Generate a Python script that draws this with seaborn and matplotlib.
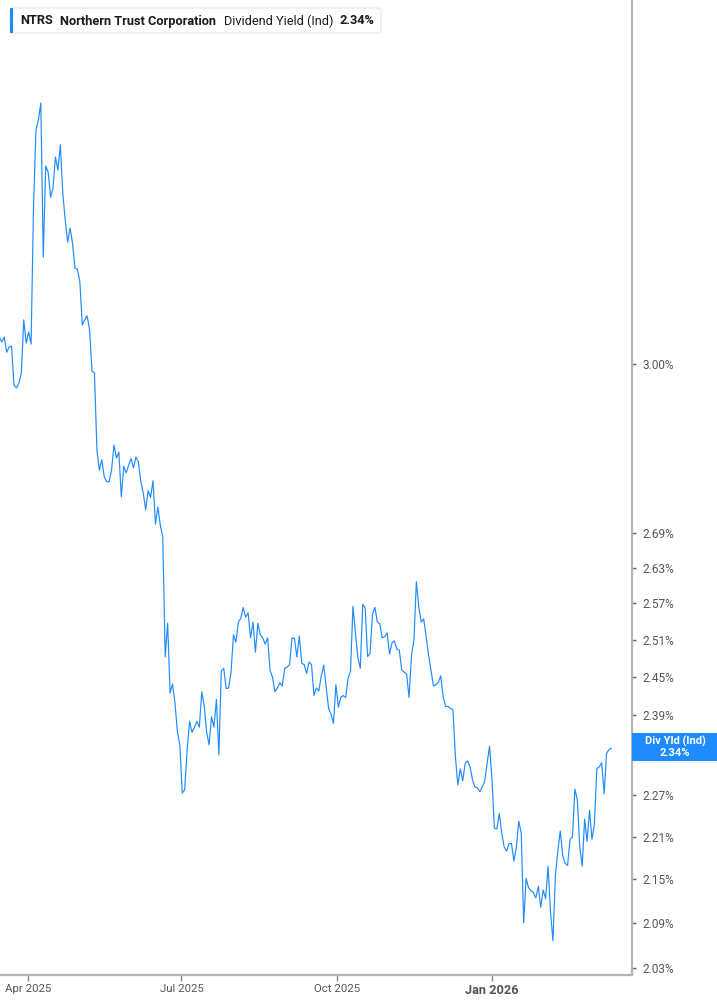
import matplotlib
matplotlib.use("Agg")
import matplotlib.pyplot as plt
import matplotlib.transforms as mtrans
from matplotlib.ticker import FixedLocator, FixedFormatter, NullLocator
from matplotlib.patches import Rectangle, FancyBboxPatch
import matplotlib.dates as mdates
import pandas as pd
import seaborn as sns

# ---------------- data ----------------
div_yield = [
    3.053, 3.043, 3.053, 3.023, 3.033, 3.035, 2.959, 2.954, 2.963, 2.983,
    3.087, 3.041, 3.063, 3.039, 3.321, 3.490, 3.513, 3.552, 3.215, 3.410,
    3.397, 3.342, 3.362, 3.430, 3.401, 3.457, 3.351, 3.293, 3.246, 3.276,
    3.244, 3.192, 3.190, 3.164, 3.077, 3.087, 3.095, 3.067, 2.986, 2.983,
    2.838, 2.801, 2.820, 2.789, 2.780, 2.780, 2.801, 2.847, 2.823, 2.834,
    2.753, 2.808, 2.796, 2.810, 2.822, 2.805, 2.825, 2.816, 2.780, 2.760,
    2.730, 2.764, 2.752, 2.782, 2.705, 2.735, 2.703, 2.683, 2.482, 2.537,
    2.425, 2.439, 2.410, 2.365, 2.345, 2.273, 2.278, 2.338, 2.381, 2.364,
    2.372, 2.381, 2.372, 2.427, 2.404, 2.364, 2.345, 2.388, 2.372, 2.415,
    2.330, 2.460, 2.464, 2.432, 2.433, 2.458, 2.518, 2.506, 2.539, 2.545,
    2.563, 2.547, 2.554, 2.513, 2.539, 2.490, 2.537, 2.518, 2.513, 2.503,
    2.513, 2.461, 2.450, 2.427, 2.433, 2.441, 2.436, 2.464, 2.466, 2.470,
    2.513, 2.512, 2.482, 2.516, 2.472, 2.470, 2.456, 2.474, 2.470, 2.421,
    2.433, 2.428, 2.452, 2.469, 2.435, 2.401, 2.392, 2.378, 2.438, 2.403,
    2.418, 2.421, 2.418, 2.448, 2.460, 2.565, 2.521, 2.482, 2.464, 2.568,
    2.562, 2.483, 2.488, 2.552, 2.563, 2.539, 2.536, 2.513, 2.515, 2.521,
    2.487, 2.505, 2.508, 2.495, 2.493, 2.461, 2.458, 2.455, 2.418, 2.485,
    2.510, 2.606, 2.563, 2.539, 2.544, 2.515, 2.485, 2.461, 2.436, 2.438,
    2.442, 2.452, 2.418, 2.404, 2.404, 2.401, 2.399, 2.327, 2.285, 2.309,
    2.291, 2.317, 2.321, 2.312, 2.293, 2.282, 2.281, 2.275, 2.282, 2.290,
    2.317, 2.343, 2.293, 2.222, 2.221, 2.243, 2.215, 2.195, 2.189, 2.200,
    2.200, 2.175, 2.195, 2.232, 2.215, 2.090, 2.151, 2.138, 2.134, 2.131,
    2.124, 2.140, 2.111, 2.135, 2.123, 2.168, 2.105, 2.066, 2.155, 2.189,
    2.218, 2.183, 2.172, 2.169, 2.206, 2.209, 2.279, 2.263, 2.195, 2.168,
    2.235, 2.203, 2.248, 2.206, 2.228, 2.309, 2.312, 2.318, 2.272, 2.332,
    2.338, 2.340,
]
start_date = "2025-03-15"
end_date = "2026-03-13"

# (the 2.33% tick sits under the last-value tag in the reference)
ytick_values = [2.03, 2.09, 2.15, 2.21, 2.27, 2.39,
                2.45, 2.51, 2.57, 2.63, 2.69, 3.00]
ytick_labels = ["2.03%", "2.09%", "2.15%", "2.21%", "2.27%", "2.39%",
                "2.45%", "2.51%", "2.57%", "2.63%", "2.69%", "3.00%"]
xtick_dates = ["2025-04-01", "2025-07-01", "2025-10-01", "2026-01-01"]
xtick_labels = ["Apr 2025", "Jul 2025", "Oct 2025", "Jan 2026"]

ticker = "NTRS"
company = "Northern Trust Corporation"
metric = "Dividend Yield (Ind)"
last_label = "Div Yld (Ind)"
last_value = div_yield[-1]

df = pd.DataFrame({
    "date": pd.date_range(start_date, end_date, periods=len(div_yield)),
    "yield": div_yield,
})

# ---------------- styling ----------------
sns.set_theme(style="white")
plt.rcParams["font.family"] = ["Roboto", "DejaVu Sans"]

BLUE = "#1f8bff"
W, H = 717, 1005
fig = plt.figure(figsize=(W / 100, H / 100), dpi=100)
fig.patch.set_facecolor("white")

ax_right = 631.7
ax_bottom = 974.5
ax = fig.add_axes([0, (H - ax_bottom) / H, ax_right / W, ax_bottom / H])
ax.set_facecolor("white")

sns.lineplot(data=df, x="date", y="yield", ax=ax, color=BLUE, linewidth=0.85)

ax.set_yscale("log")
ax.set_ylim(2.0213, 3.7966)
ax.set_xlim(pd.Timestamp("2025-03-15 09:00"), pd.Timestamp("2026-03-25"))
ax.set_xlabel("")
ax.set_ylabel("")

ax.yaxis.set_major_locator(FixedLocator(ytick_values))
ax.yaxis.set_major_formatter(FixedFormatter(ytick_labels))
ax.yaxis.set_minor_locator(NullLocator())
ax.yaxis.tick_right()
ax.yaxis.set_label_position("right")

ax.set_xticks(pd.to_datetime(xtick_dates))
ax.set_xticklabels(xtick_labels)
ax.xaxis.set_minor_locator(NullLocator())

for s in ["left", "top"]:
    ax.spines[s].set_visible(False)
for s in ["right", "bottom"]:
    ax.spines[s].set_color("#b5b5b5")
    ax.spines[s].set_linewidth(1.6)

ax.tick_params(axis="y", which="major", direction="out", length=3, width=1,
               color="#666666", labelsize=8.5, labelcolor="#555555", pad=5,
               right=True, left=False)
ax.tick_params(axis="x", which="major", direction="out", length=4, width=1,
               color="#888888", labelsize=8.2, labelcolor="#555555", pad=3,
               bottom=True)
for lbl in ax.get_xticklabels():
    if lbl.get_text() == "Jan 2026":
        lbl.set_fontweight("bold")
        lbl.set_fontsize(9.2)
ax.grid(False)

# ---------------- header box ----------------
hdr = FancyBboxPatch((10 / W, (H - 33) / H), 371 / W, 25 / H,
                     boxstyle="round,pad=0,rounding_size=0.004",
                     transform=fig.transFigure, facecolor="white",
                     edgecolor="#e6e6e6", linewidth=0.8)
fig.add_artist(hdr)
bar = Rectangle((10 / W, (H - 33) / H), 3 / W, 25 / H,
                transform=fig.transFigure, facecolor=BLUE, edgecolor="none")
fig.add_artist(bar)
ty = (H - 21) / H
hfs = 9.2
fig.text(20 / W, ty, ticker, fontsize=hfs, fontweight="bold", color="#1a1a1a", va="center")
fig.text(60 / W, ty, company, fontsize=hfs, fontweight="bold", color="#1a1a1a", va="center")
fig.text(224 / W, ty, metric, fontsize=hfs, color="#1a1a1a", va="center")
fig.text(339 / W, ty, f"{last_value:.2f}%", fontsize=hfs, fontweight="bold",
         color="#1a1a1a", va="center")

# ---------------- last value tag on the right axis ----------------
ident = mtrans.IdentityTransform()
yd = ax.transData.transform((mdates.date2num(df["date"].iloc[-1]), last_value))[1]
tag = Rectangle((ax_right, yd - 13), W - ax_right, 28, transform=ident,
                facecolor=BLUE, edgecolor="none", zorder=5)
fig.add_artist(tag)
fig.text(675 / W, (yd + 1 + 5.5) / H, last_label, fontsize=8, fontweight="bold",
         color="white", ha="center", va="center", zorder=6)
fig.text(675 / W, (yd + 1 - 5.5) / H, f"{last_value:.2f}%", fontsize=8,
         fontweight="bold", color="white", ha="center", va="center", zorder=6)

fig.savefig("out.png", dpi=100, facecolor="white")
